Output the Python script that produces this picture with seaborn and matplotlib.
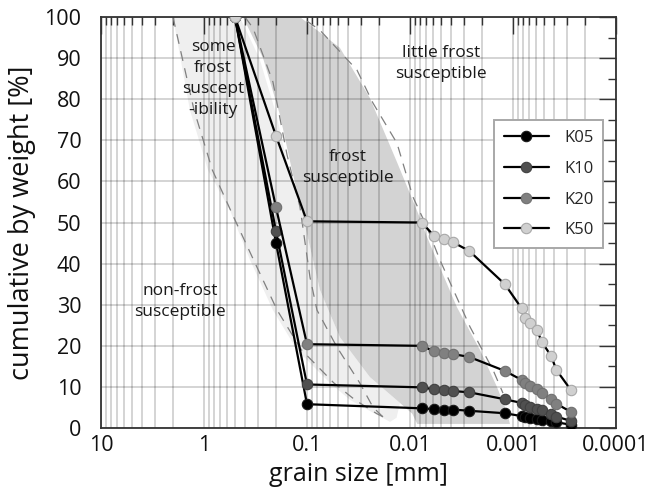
import numpy as np
import pandas as pd
import matplotlib
matplotlib.use("Agg")
import matplotlib.pyplot as plt
import seaborn as sns
from matplotlib.ticker import FixedLocator, NullFormatter

# ---------------- data ----------------
grain_size = [0.5, 0.2, 0.1, 0.0077, 0.00585, 0.00465, 0.00382, 0.00266,
              0.0012, 0.000823, 0.000756, 0.000684, 0.000585, 0.000523,
              0.000428, 0.000378, 0.000273]
K05 = [100, 45.1, 5.8, 4.8, 4.6, 4.5, 4.5, 4.2, 3.6, 2.9, 2.7, 2.5, 2.3, 2.0, 1.7, 1.4, 0.8]
K10 = [100, 47.9, 10.6, 9.9, 9.4, 9.2, 9.0, 8.7, 7.0, 6.1, 5.5, 5.1, 4.6, 4.3, 3.5, 2.8, 1.7]
K20 = [100, 53.7, 20.4, 20.0, 18.7, 18.3, 18.0, 17.3, 13.9, 11.7, 11.0, 10.3, 9.6, 8.5, 7.1, 5.9, 3.9]
K50 = [100, 71.1, 50.3, 50.0, 46.8, 46.1, 45.2, 43.1, 35.0, 29.1, 26.7, 25.5, 23.8, 20.9, 17.6, 14.1, 9.2]
series_names = ["K05", "K10", "K20", "K50"]
series_values = [K05, K10, K20, K50]
marker_faces = ["#000000", "#505050", "#808080", "#d0d0d0"]
marker_edges = ["#1a1a1a", "#404040", "#707070", "#a8a8a8"]

# frost-susceptibility bands (grain size mm, cumulative %)
light_x = [2.0, 1.37, 0.915, 0.56, 0.357, 0.214, 0.125, 0.060, 0.038, 0.022, 0.0156,
           0.0135, 0.0125, 0.0245, 0.0479, 0.0748, 0.109, 0.150, 0.198, 0.29, 0.45]
light_y = [100, 77.4, 62.8, 53, 40.9, 28.7, 19, 11, 6.8, 3.5, 1.5,
           2.5, 6.1, 12.4, 22.1, 33.6, 51.3, 62.8, 76.2, 90, 100]
dark_x = [0.418, 0.117, 0.0479, 0.0245, 0.01337, 0.00836, 0.00684, 0.0035, 0.00209,
          0.00143, 0.00115, 0.00107, 0.0085, 0.0095, 0.0125, 0.0245, 0.0479, 0.0748,
          0.109, 0.140, 0.183, 0.267]
dark_y = [100, 100, 92.5, 80.3, 64.7, 52.3, 46.5, 29.4, 19, 10, 4, 1.0, 1.0, 3.5, 6.1,
          12.4, 22.1, 33.6, 51.3, 62.8, 76.2, 90]
dashA_x = [2.0, 1.25, 0.83, 0.51, 0.33, 0.195, 0.113, 0.055, 0.034, 0.021, 0.0165]
dashA_y = [100, 77.4, 62.8, 51.1, 40.9, 28.7, 19, 11, 6.8, 3.5, 2.2]
dashB_x = [0.40, 0.334, 0.214, 0.156, 0.117, 0.0935, 0.080, 0.0512, 0.0306, 0.0229, 0.0183]
dashB_y = [100, 97.3, 84.2, 66.4, 53.8, 36.7, 28.7, 19.7, 10.9, 5.1, 2.7]
dashC_x = [0.10, 0.0748, 0.0327, 0.0229, 0.01337, 0.00935, 0.00684, 0.00512, 0.00261, 0.00156, 0.00125]
dashC_y = [99, 96.8, 87.1, 79.1, 69.3, 56.2, 48.9, 40.9, 24.6, 14.1, 8.5]

xtick_vals = [10, 1, 0.1, 0.01, 0.001, 0.0001]
xtick_labels = ["10", "1", "0.1", "0.01", "0.001", "0.0001"]
ytick_vals = list(range(0, 101, 10))

# ---------------- plot ----------------
sns.set_theme(style="white")
plt.rcParams["font.family"] = ["Open Sans", "DejaVu Sans"]

fig = plt.figure(figsize=(6.49, 4.92), dpi=100)
ax = fig.add_axes([0.1556, 0.130, 0.7935, 0.8354])

ax.fill(light_x, light_y, color="#efefef", lw=0, zorder=0.1)
ax.fill(dark_x, dark_y, color="#d3d3d3", lw=0, zorder=0.15)
for dx, dy in [(dashA_x, dashA_y), (dashB_x, dashB_y), (dashC_x, dashC_y)]:
    ax.plot(dx, dy, color="#808080", lw=0.9, dashes=(8, 6), zorder=0.7)

for name, vals, fc, ec in zip(series_names, series_values, marker_faces, marker_edges):
    df = pd.DataFrame({"grain": grain_size, "pct": vals})
    sns.lineplot(data=df, x="grain", y="pct", ax=ax, sort=False, estimator=None,
                 color="black", lw=1.6, marker="o", markersize=7.5,
                 markerfacecolor=fc, markeredgecolor=ec, markeredgewidth=0.8,
                 label=name, zorder=3)

ax.set_xscale("log")
ax.set_xlim(10, 0.0001)
ax.set_ylim(0, 100)

ax.xaxis.set_major_locator(FixedLocator(xtick_vals))
ax.set_xticklabels(xtick_labels)
minor_x = [m * 10.0 ** e for e in range(-4, 1) for m in range(2, 10)]
ax.xaxis.set_minor_locator(FixedLocator(minor_x))
ax.xaxis.set_minor_formatter(NullFormatter())
ax.set_yticks(ytick_vals)
ax.yaxis.set_minor_locator(FixedLocator(list(range(5, 100, 10))))

ax.set_axisbelow(True)
ax.grid(True, which="both", axis="x", color="black", alpha=0.17, lw=1.4)
ax.grid(True, which="major", axis="y", color="black", alpha=0.17, lw=1.4)

ax.tick_params(axis="both", which="major", direction="in", length=12, width=1.0,
               color="#333333", top=True, right=True, labelsize=15.5,
               labelcolor="#111111")
ax.tick_params(axis="both", which="minor", direction="in", length=6, width=1.0,
               color="#333333", top=True, right=True)
ax.tick_params(axis="x", which="major", pad=5)
ax.tick_params(axis="y", which="major", pad=14)
for s in ax.spines.values():
    s.set_color("#333333")
    s.set_linewidth(1.3)

ax.set_xlabel("grain size [mm]", fontsize=18, color="#111111", labelpad=4)
ax.set_ylabel("cumulative by weight [%]", fontsize=19.5, color="#111111", labelpad=6)

txt_kw = dict(fontsize=12.5, ha="center", va="center", color="#1a1a1a",
              linespacing=1.42, zorder=4)
ax.text(0.818, 85, "some\nfrost\nsuscept\n-ibility", **txt_kw)
ax.text(0.04, 63.3, "frost\nsusceptible", **txt_kw)
ax.text(0.005, 88.8, "little frost\nsusceptible", **txt_kw)
ax.text(1.71, 30.7, "non-frost\nsusceptible", **txt_kw)

leg = ax.legend(loc="upper left", bbox_to_anchor=(0.763, 0.749), frameon=True,
                fontsize=12, handlelength=2.7, borderpad=0.6, labelspacing=0.88,
                handletextpad=0.9, borderaxespad=0, fancybox=False)
leg.get_frame().set_edgecolor("#a8a8a8")
leg.get_frame().set_linewidth(1.4)
leg.get_frame().set_facecolor("white")
leg.get_frame().set_alpha(1)

fig.savefig("out.png", dpi=100)
